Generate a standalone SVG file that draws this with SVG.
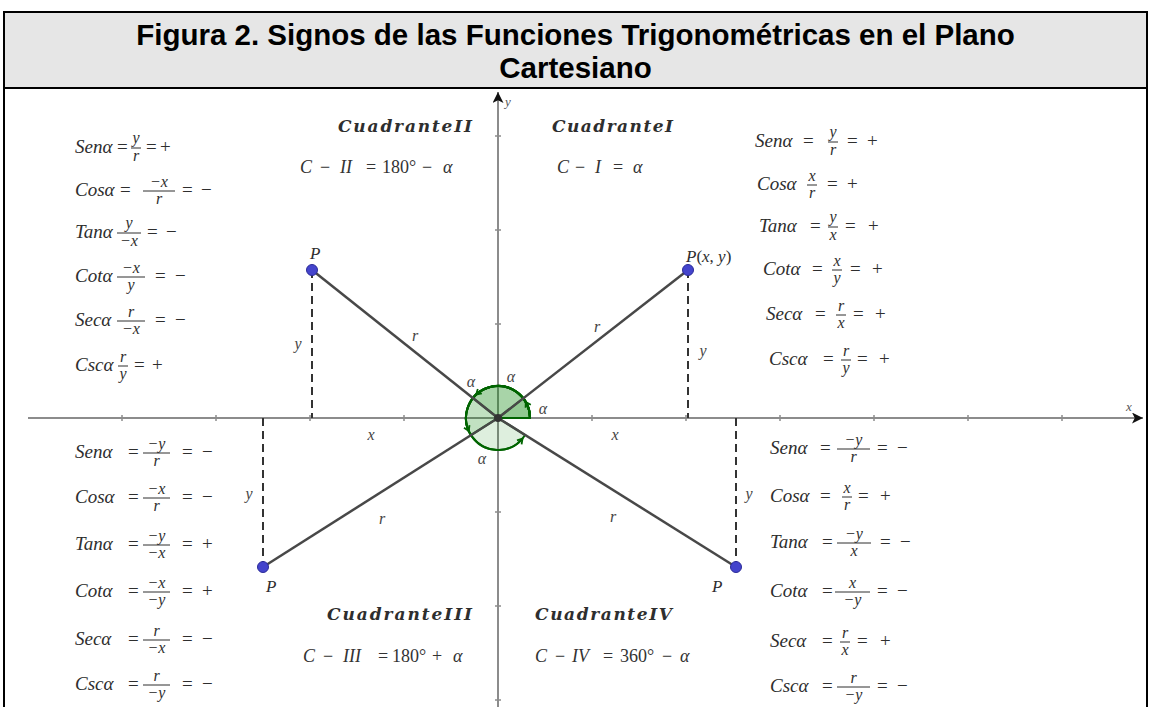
<svg xmlns="http://www.w3.org/2000/svg" width="1151" height="707" viewBox="0 0 1151 707">
<style>
.ti{font-family:"Liberation Sans",Arial,sans-serif;font-weight:bold;font-size:29.5px;fill:#000;text-anchor:middle}
.v{font-family:"Liberation Serif",serif;font-style:italic;font-size:19px;fill:#2e2e2e}
.op{font-family:"Liberation Serif",serif;font-size:19px;fill:#2e2e2e}
.fr{font-family:"Liberation Serif",serif;font-style:italic;font-size:16px;fill:#2e2e2e;text-anchor:middle}
.fb{stroke:#2e2e2e;stroke-width:1}
.qh{font-family:"DejaVu Serif",serif;font-weight:bold;font-style:italic;font-size:17px;fill:#2e2e2e}
.eq{font-family:"Liberation Serif",serif;font-size:18px;fill:#333}
.it{font-style:italic}
.lb{font-family:"Liberation Serif",serif;font-style:italic;font-size:16px;fill:#444;text-anchor:middle}
.axl{font-family:"Liberation Serif",serif;font-style:italic;font-size:13px;fill:#555;text-anchor:middle}
.ax{stroke:#8c8c8c;stroke-width:2;fill:none}
.tk{stroke:#8c8c8c;stroke-width:1.5}
.rl{stroke:#484848;stroke-width:2.5}
.dl{stroke:#333;stroke-width:2;stroke-dasharray:8 5}
.pt{fill:#4444cc;stroke:#2b2b99;stroke-width:1}
.sec{fill:#008000;fill-opacity:.13;stroke:#006400;stroke-width:2}
.arc{fill:none;stroke:#006400;stroke-width:2}
</style>
<defs>
<marker id="axh" viewBox="0 0 10 10" refX="10" refY="5" markerWidth="13" markerHeight="11" markerUnits="userSpaceOnUse" orient="auto">
<path d="M0,0 L10,5 L0,10 L2.5,5 z" fill="#111"/>
</marker>
<marker id="chev" viewBox="0 0 8 8" refX="6" refY="4" markerWidth="8" markerHeight="8" markerUnits="userSpaceOnUse" orient="auto">
<path d="M1,1 L6,4 L1,7" fill="none" stroke="#006400" stroke-width="1.8"/>
</marker>
</defs>
<rect width="1151" height="707" fill="#fff"/>
<g id="title">
<rect x="4" y="12" width="1143" height="76" fill="#e6e6e6"/>
<path d="M4,707 V12 H1147 V707" fill="none" stroke="#000" stroke-width="2"/>
<line x1="4" y1="88" x2="1147" y2="88" stroke="#000" stroke-width="2"/>
<text class="ti" x="575.5" y="45">Figura 2. Signos de las Funciones Trigonométricas en el Plano</text>
<text class="ti" x="575.5" y="78">Cartesiano</text>
</g>
<g id="axes">
<line class="ax" x1="28" y1="418" x2="1143" y2="418" marker-end="url(#axh)"/>
<line class="ax" x1="498" y1="707" x2="498" y2="92" marker-end="url(#axh)"/>
<path class="tk" d="M122,415v6M216,415v6M310,415v6M404,415v6M592,415v6M686,415v6M780,415v6M874,415v6M968,415v6M1062,415v6M495,136h6M495,230h6M495,324h6M495,512h6M495,606h6M495,700h6"/>
<text class="axl" x="508" y="106">y</text>
<text class="axl" x="1129" y="411">x</text>
</g>
<g id="angles">
<path class="sec" d="M498,418 L530,418 A32,32 0 1 0 525.12,434.98 Z"/>
<path class="sec" d="M498,418 L530,418 A32,32 0 1 0 470.98,435.14 Z"/>
<path class="sec" d="M498,418 L530,418 A32,32 0 0 0 472.96,398.07 Z"/>
<path class="sec" d="M498,418 L530,418 A32,32 0 0 0 523.2,398.3 Z"/>
<path class="arc" d="M530,418 A32,32 0 0 0 525.71,402" marker-end="url(#chev)"/>
<path class="arc" d="M530,418 A32,32 0 0 0 476.18,394.6" marker-end="url(#chev)"/>
<path class="arc" d="M530,418 A32,32 0 1 0 468.77,431.01" marker-end="url(#chev)"/>
<path class="arc" d="M530,418 A32,32 0 1 0 522.51,438.57" marker-end="url(#chev)"/>
</g>
<g id="connectors">
<line class="rl" x1="498" y1="418" x2="688" y2="270"/>
<line class="rl" x1="498" y1="418" x2="312" y2="270"/>
<line class="rl" x1="498" y1="418" x2="263" y2="567"/>
<line class="rl" x1="498" y1="418" x2="736" y2="567"/>
<line class="dl" x1="688" y1="270" x2="688" y2="418"/>
<line class="dl" x1="312" y1="270" x2="312" y2="418"/>
<line class="dl" x1="263" y1="418" x2="263" y2="567"/>
<line class="dl" x1="736" y1="418" x2="736" y2="567"/>
</g>
<g id="origin"><circle cx="498" cy="418" r="4" fill="#333"/></g>
<g id="point-q1"><circle class="pt" cx="688" cy="270" r="5.5"/><text class="v" x="686" y="262" style="font-size:17px">P<tspan font-style="normal">(</tspan>x<tspan font-style="normal">, </tspan>y<tspan font-style="normal">)</tspan></text></g>
<g id="point-q2"><circle class="pt" cx="312" cy="270" r="5.5"/><text class="v" x="310" y="259" style="font-size:17px">P</text></g>
<g id="point-q3"><circle class="pt" cx="263" cy="567" r="5.5"/><text class="v" x="266" y="592" style="font-size:17px">P</text></g>
<g id="point-q4"><circle class="pt" cx="736" cy="567" r="5.5"/><text class="v" x="712" y="592" style="font-size:17px">P</text></g>
<g id="labels">
<text class="lb" x="415" y="341">r</text>
<text class="lb" x="597" y="332">r</text>
<text class="lb" x="382" y="524">r</text>
<text class="lb" x="613" y="522">r</text>
<text class="lb" x="298" y="349">y</text>
<text class="lb" x="703" y="356">y</text>
<text class="lb" x="249" y="499">y</text>
<text class="lb" x="749" y="499">y</text>
<text class="lb" x="371" y="440">x</text>
<text class="lb" x="615" y="440">x</text>
<text class="lb" x="471" y="387">α</text>
<text class="lb" x="511" y="382">α</text>
<text class="lb" x="543" y="414">α</text>
<text class="lb" x="482" y="464">α</text>
</g>
<g id="quadrant-I">
<text class="qh" x="552" y="132" textLength="121" lengthAdjust="spacing">CuadranteI</text>
<text class="eq" y="173"><tspan class="it" x="557">C</tspan><tspan x="575">−</tspan><tspan class="it" x="595">I</tspan><tspan x="613">=</tspan><tspan class="it" x="633">α</tspan></text>
</g>
<g id="quadrant-II">
<text class="qh" x="338" y="132" textLength="134" lengthAdjust="spacing">CuadranteII</text>
<text class="eq" y="173"><tspan class="it" x="300">C</tspan><tspan x="320">−</tspan><tspan class="it" x="340">II</tspan><tspan x="366">=</tspan><tspan x="382">180°</tspan><tspan x="422">−</tspan><tspan class="it" x="443">α</tspan></text>
</g>
<g id="quadrant-III">
<text class="qh" x="327" y="620" textLength="145" lengthAdjust="spacing">CuadranteIII</text>
<text class="eq" y="662"><tspan class="it" x="303">C</tspan><tspan x="323">−</tspan><tspan class="it" x="343">III</tspan><tspan x="378">=</tspan><tspan x="392">180°</tspan><tspan x="432">+</tspan><tspan class="it" x="453">α</tspan></text>
</g>
<g id="quadrant-IV">
<text class="qh" x="535" y="620" textLength="137" lengthAdjust="spacing">CuadranteIV</text>
<text class="eq" y="662"><tspan class="it" x="535">C</tspan><tspan x="555">−</tspan><tspan class="it" x="572">IV</tspan><tspan x="603">=</tspan><tspan x="620">360°</tspan><tspan x="662">−</tspan><tspan class="it" x="680">α</tspan></text>
</g>
<g id="signs-q2">
<text class="v" x="75" y="153">Senα</text><text class="op" x="117" y="153">=</text><line class="fb" x1="131" y1="148" x2="141" y2="148"/><text class="fr" x="136" y="143">y</text><text class="fr" x="136" y="161">r</text><text class="op" x="146" y="153">=</text><text class="op" x="160" y="153">+</text>
<text class="v" x="75" y="196">Cosα</text><text class="op" x="120" y="196">=</text><line class="fb" x1="143" y1="191" x2="175" y2="191"/><text class="fr" x="159" y="187">−x</text><text class="fr" x="159" y="204">r</text><text class="op" x="182" y="196">=</text><text class="op" x="201" y="196">−</text>
<text class="v" x="75" y="238">Tanα</text><line class="fb" x1="117" y1="233" x2="141" y2="233"/><text class="fr" x="129" y="228">y</text><text class="fr" x="129" y="246">−x</text><text class="op" x="147" y="238">=</text><text class="op" x="166" y="238">−</text>
<text class="v" x="75" y="282">Cotα</text><line class="fb" x1="117" y1="277" x2="145" y2="277"/><text class="fr" x="131" y="273">−x</text><text class="fr" x="131" y="290">y</text><text class="op" x="155" y="282">=</text><text class="op" x="175" y="282">−</text>
<text class="v" x="75" y="326">Secα</text><line class="fb" x1="117" y1="321" x2="145" y2="321"/><text class="fr" x="131" y="317">r</text><text class="fr" x="131" y="334">−x</text><text class="op" x="155" y="326">=</text><text class="op" x="175" y="326">−</text>
<text class="v" x="75" y="371">Cscα</text><line class="fb" x1="118" y1="366" x2="128" y2="366"/><text class="fr" x="123" y="362">r</text><text class="fr" x="123" y="379">y</text><text class="op" x="134" y="371">=</text><text class="op" x="152" y="371">+</text>
</g>
<g id="signs-q1">
<text class="v" x="755" y="147">Senα</text><text class="op" x="803" y="147">=</text><line class="fb" x1="828" y1="142" x2="838" y2="142"/><text class="fr" x="833" y="137">y</text><text class="fr" x="833" y="155">r</text><text class="op" x="847" y="147">=</text><text class="op" x="867" y="147">+</text>
<text class="v" x="757" y="190">Cosα</text><line class="fb" x1="807" y1="185" x2="817" y2="185"/><text class="fr" x="812" y="181">x</text><text class="fr" x="812" y="198">r</text><text class="op" x="827" y="190">=</text><text class="op" x="847" y="190">+</text>
<text class="v" x="759" y="232">Tanα</text><text class="op" x="810" y="232">=</text><line class="fb" x1="828" y1="227" x2="838" y2="227"/><text class="fr" x="833" y="222">y</text><text class="fr" x="833" y="240">x</text><text class="op" x="845" y="232">=</text><text class="op" x="868" y="232">+</text>
<text class="v" x="763" y="275">Cotα</text><text class="op" x="812" y="275">=</text><line class="fb" x1="832" y1="270" x2="842" y2="270"/><text class="fr" x="837" y="266">x</text><text class="fr" x="837" y="283">y</text><text class="op" x="850" y="275">=</text><text class="op" x="872" y="275">+</text>
<text class="v" x="766" y="320">Secα</text><text class="op" x="815" y="320">=</text><line class="fb" x1="836" y1="315" x2="846" y2="315"/><text class="fr" x="841" y="311">r</text><text class="fr" x="841" y="328">x</text><text class="op" x="853" y="320">=</text><text class="op" x="875" y="320">+</text>
<text class="v" x="769" y="365">Cscα</text><text class="op" x="823" y="365">=</text><line class="fb" x1="841" y1="360" x2="851" y2="360"/><text class="fr" x="846" y="356">r</text><text class="fr" x="846" y="373">y</text><text class="op" x="857" y="365">=</text><text class="op" x="879" y="365">+</text>
</g>
<g id="signs-q3">
<text class="v" x="75" y="458">Senα</text><text class="op" x="128" y="458">=</text><line class="fb" x1="143" y1="453" x2="170" y2="453"/><text class="fr" x="156.5" y="449">−y</text><text class="fr" x="156.5" y="466">r</text><text class="op" x="182" y="458">=</text><text class="op" x="202" y="458">−</text>
<text class="v" x="75" y="503">Cosα</text><text class="op" x="128" y="503">=</text><line class="fb" x1="143" y1="498" x2="170" y2="498"/><text class="fr" x="156.5" y="494">−x</text><text class="fr" x="156.5" y="511">r</text><text class="op" x="182" y="503">=</text><text class="op" x="202" y="503">−</text>
<text class="v" x="75" y="550">Tanα</text><text class="op" x="128" y="550">=</text><line class="fb" x1="143" y1="545" x2="170" y2="545"/><text class="fr" x="156.5" y="541">−y</text><text class="fr" x="156.5" y="558">−x</text><text class="op" x="182" y="550">=</text><text class="op" x="202" y="550">+</text>
<text class="v" x="75" y="597">Cotα</text><text class="op" x="128" y="597">=</text><line class="fb" x1="143" y1="592" x2="170" y2="592"/><text class="fr" x="156.5" y="588">−x</text><text class="fr" x="156.5" y="605">−y</text><text class="op" x="182" y="597">=</text><text class="op" x="202" y="597">+</text>
<text class="v" x="75" y="645">Secα</text><text class="op" x="128" y="645">=</text><line class="fb" x1="143" y1="640" x2="170" y2="640"/><text class="fr" x="156.5" y="636">r</text><text class="fr" x="156.5" y="653">−x</text><text class="op" x="182" y="645">=</text><text class="op" x="202" y="645">−</text>
<text class="v" x="75" y="690">Cscα</text><text class="op" x="128" y="690">=</text><line class="fb" x1="143" y1="685" x2="170" y2="685"/><text class="fr" x="156.5" y="681">r</text><text class="fr" x="156.5" y="698">−y</text><text class="op" x="182" y="690">=</text><text class="op" x="202" y="690">−</text>
</g>
<g id="signs-q4">
<text class="v" x="770" y="454">Senα</text><text class="op" x="820" y="454">=</text><line class="fb" x1="837" y1="449" x2="870" y2="449"/><text class="fr" x="853.5" y="445">−y</text><text class="fr" x="853.5" y="462">r</text><text class="op" x="877" y="454">=</text><text class="op" x="897" y="454">−</text>
<text class="v" x="770" y="502">Cosα</text><text class="op" x="820" y="502">=</text><line class="fb" x1="842" y1="497" x2="852" y2="497"/><text class="fr" x="847" y="493">x</text><text class="fr" x="847" y="510">r</text><text class="op" x="858" y="502">=</text><text class="op" x="880" y="502">+</text>
<text class="v" x="770" y="548">Tanα</text><text class="op" x="822" y="548">=</text><line class="fb" x1="837" y1="543" x2="871" y2="543"/><text class="fr" x="854" y="539">−y</text><text class="fr" x="854" y="556">x</text><text class="op" x="880" y="548">=</text><text class="op" x="900" y="548">−</text>
<text class="v" x="770" y="597">Cotα</text><text class="op" x="822" y="597">=</text><line class="fb" x1="835" y1="592" x2="870" y2="592"/><text class="fr" x="852.5" y="588">x</text><text class="fr" x="852.5" y="605">−y</text><text class="op" x="877" y="597">=</text><text class="op" x="897" y="597">−</text>
<text class="v" x="770" y="647">Secα</text><text class="op" x="822" y="647">=</text><line class="fb" x1="840" y1="642" x2="850" y2="642"/><text class="fr" x="845" y="638">r</text><text class="fr" x="845" y="655">x</text><text class="op" x="857" y="647">=</text><text class="op" x="880" y="647">+</text>
<text class="v" x="770" y="692">Cscα</text><text class="op" x="822" y="692">=</text><line class="fb" x1="837" y1="687" x2="870" y2="687"/><text class="fr" x="853.5" y="683">r</text><text class="fr" x="853.5" y="700">−y</text><text class="op" x="877" y="692">=</text><text class="op" x="897" y="692">−</text>
</g>
</svg>
